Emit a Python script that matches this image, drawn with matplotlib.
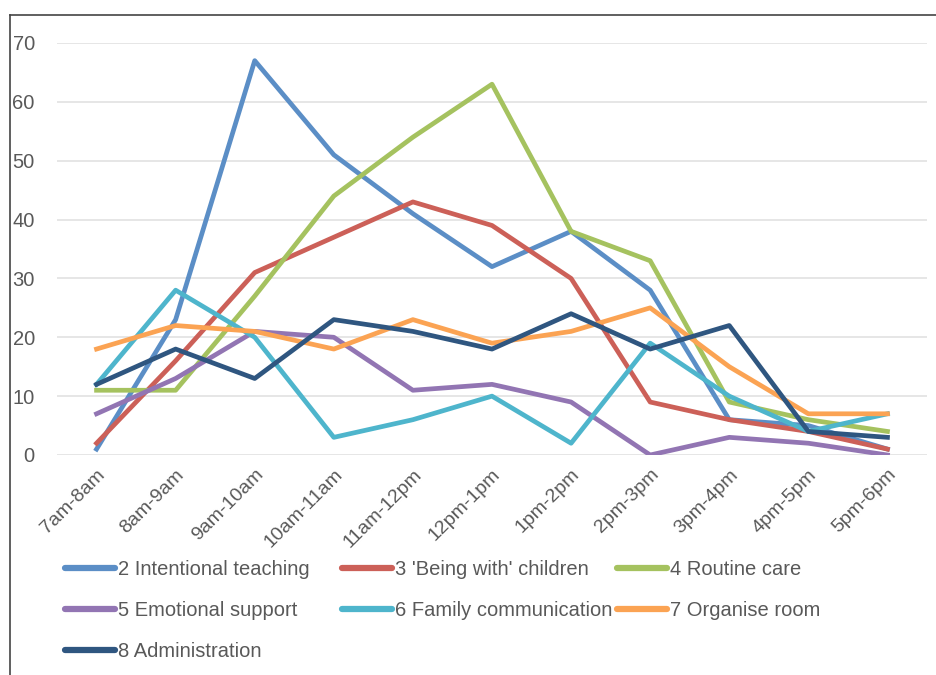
import matplotlib.pyplot as plt
from matplotlib.lines import Line2D

plt.rcParams['font.family'] = ['Liberation Sans', 'DejaVu Sans']

hours = ['7am-8am', '8am-9am', '9am-10am', '10am-11am', '11am-12pm', '12pm-1pm',
         '1pm-2pm', '2pm-3pm', '3pm-4pm', '4pm-5pm', '5pm-6pm']

teaching = [1, 23, 67, 51, 41, 32, 38, 28, 6, 5, 1]
being_with = [2, 16, 31, 37, 43, 39, 30, 9, 6, 4, 1]
routine = [11, 11, 27, 44, 54, 63, 38, 33, 9, 6, 4]
emotional = [7, 13, 21, 20, 11, 12, 9, 0, 3, 2, 0]
family = [12, 28, 20, 3, 6, 10, 2, 19, 10, 4, 7]
organise = [18, 22, 21, 18, 23, 19, 21, 25, 15, 7, 7]
admin = [12, 18, 13, 23, 21, 18, 24, 18, 22, 4, 3]

names = ['2 Intentional teaching', "3 'Being with' children", '4 Routine care',
         '5 Emotional support', '6 Family communication', '7 Organise room',
         '8 Administration']
series = [teaching, being_with, routine, emotional, family, organise, admin]
colors = ['#5B8EC6', '#CC6058', '#A5C25F', '#9275B3', '#4EB5CC', '#FBA353', '#2F5680']

txt = '#595959'

fig = plt.figure(figsize=(9.36, 6.75), dpi=100)
ax = fig.add_axes([57 / 936, 1 - 455 / 675, 870 / 936, 412 / 675])

x = list(range(len(hours)))
for vals, name, c in zip(series, names, colors):
    ax.plot(x, vals, color=c, lw=3.4, label=name)

ax.set_xlim(-0.5, 10.5)
ax.set_ylim(0, 70)
ax.set_yticks(range(0, 71, 10))
ax.grid(axis='y', color='#E2E2E2', lw=1.2)
ax.set_axisbelow(True)
for s in ax.spines.values():
    s.set_visible(False)
ax.tick_params(length=0, colors=txt, labelsize=14)
ax.tick_params(axis='y', labelsize=14.5, pad=16)
ax.set_xticks(x)
ax.set_xticklabels(hours, rotation=45, ha='right', rotation_mode='anchor')
ax.tick_params(axis='x', pad=8)

# legend in three fixed-width columns
cols = [[0, 3, 6], [1, 4], [2, 5]]
xs = [65, 342, 617]
for idx, x0 in zip(cols, xs):
    hs = [Line2D([], [], color=colors[i], lw=4.5, solid_capstyle='round') for i in idx]
    leg = fig.legend(hs, [names[i] for i in idx], loc='upper left',
                     bbox_to_anchor=(x0 / 936, 1 - 560 / 675), frameon=False,
                     fontsize=14.5, handlelength=2.5, handletextpad=0.15,
                     labelspacing=1.1, borderpad=0, borderaxespad=0)
    for t in leg.get_texts():
        t.set_color(txt)

# outer frame (top and left edges visible)
fig.add_artist(Line2D([10 / 936, 1], [1 - 15 / 675, 1 - 15 / 675], color='#444444', lw=1.2))
fig.add_artist(Line2D([10 / 936, 10 / 936], [0, 1 - 15 / 675], color='#444444', lw=1.2))

fig.savefig('out.png', dpi=100)
